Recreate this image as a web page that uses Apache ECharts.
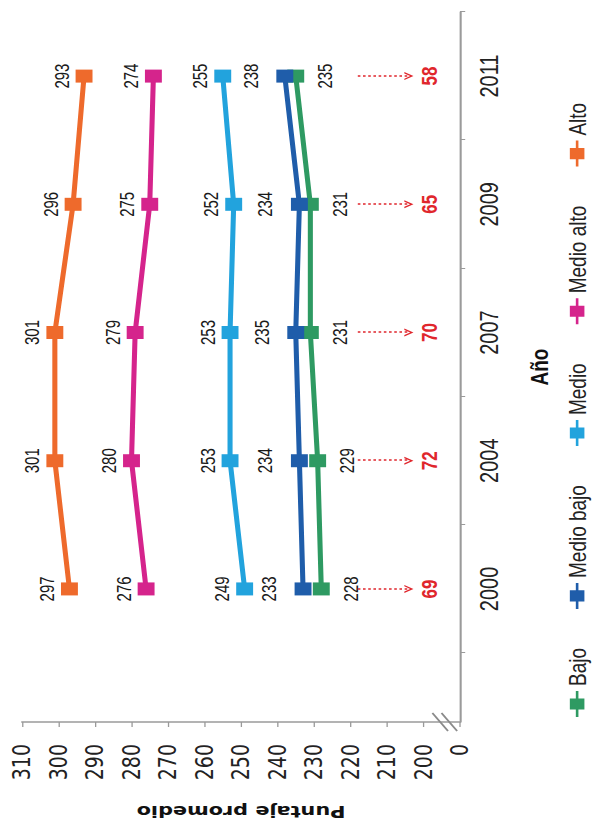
<!DOCTYPE html>
<html><head><meta charset="utf-8">
<script src="https://cdn.jsdelivr.net/npm/echarts@6/dist/echarts.min.js"></script>
<style>
html,body{margin:0;padding:0;background:#fff;overflow:hidden;width:596px;height:835px}
#chart{position:absolute;left:0;top:0;width:835px;height:458px;transform-origin:0 0;transform:translateY(835px) rotate(-90deg) scaleY(1.3013);}
</style></head><body><div id="chart"></div>
<script>
// ---- data ----
const anios = ['2000', '2004', '2007', '2009', '2011'];
const bajo = [228, 229, 231, 231, 235];
const medioBajo = [233, 234, 235, 234, 238];
const medio = [249, 253, 253, 252, 255];
const medioAlto = [276, 280, 279, 275, 274];
const alto = [297, 301, 301, 296, 293];
const brechas = [69, 72, 70, 65, 58];   // Alto - Bajo, red annotations
const valorMin = 190, valorMax = 310, valorPaso = 10;   // 190 is shown as "0" (axis break)
const etiquetaCero = '0';

// ---- layout ----
const K = 596 / 458;
const W = 835, H = 458;
const gridLeft = 113, gridRight = 12, gridTop = 22 / K, gridBottom = H - 460 / K;
const catWidth = (835 - 11.7 - 182) / anios.length;
const xMin = -0.5 - (182 - 113) / catWidth;

const chart = echarts.init(document.getElementById('chart'), null, {renderer: 'svg', width: W, height: H});

const chevron = 'path://M0,10 L5,0 L10,10 L8.2,10 L5,3.6 L1.8,10 Z';
const labelFont = 'Liberation Sans';

function mkSeries(name, vals, color, pos, dist) {
  return {
    name: name, type: 'line',
    data: vals.map((v, i) => [i, v]),
    symbol: 'rect', symbolSize: 13,
    lineStyle: {width: 3.9, color: color},
    itemStyle: {color: color},
    label: {show: true, position: pos, distance: dist, color: '#1a1a1a', fontFamily: labelFont, fontSize: 15,
      formatter: p => String(p.value[1])},
    emphasis: {disabled: true},
    animation: false, z: 3
  };
}

const series = [
  mkSeries('Bajo', bajo, '#2E9A62', 'bottom', 9),
  mkSeries('Medio bajo', medioBajo, '#1F5DAA', 'top', 12),
  mkSeries('Medio', medio, '#22A3DD', 'top', 3),
  mkSeries('Medio alto', medioAlto, '#D5248C', 'top', 3),
  mkSeries('Alto', alto, '#EE6A2C', 'top', 3)
];
series[0].markLine = {
  silent: true, animation: false,
  symbol: ['none', chevron], symbolSize: [8, 7],
  lineStyle: {color: '#E0262C', width: 1.5, type: [2, 2]},
  label: {show: true, position: 'end', distance: 7, color: '#E0262C', fontWeight: 'bold',
    fontFamily: labelFont, fontSize: 17, formatter: p => String(brechas[p.dataIndex])},
  emphasis: {disabled: true},
  data: anios.map((a, i) => [{coord: [i, 218]}, {coord: [i, 204]}])
};

chart.setOption({
  backgroundColor: '#fff',
  animation: false,
  grid: {left: gridLeft, right: gridRight, top: gridTop, bottom: gridBottom, containLabel: false},
  legend: {
    data: ['Bajo', 'Medio bajo', 'Medio', 'Medio alto', 'Alto'],
    left: 112, top: 429, itemWidth: 26, itemHeight: 14, itemGap: 38,
    textStyle: {fontFamily: labelFont, fontSize: 19, color: '#222', lineHeight: 19}
  },
  xAxis: {
    type: 'value', min: xMin, max: 4.5,
    name: 'Año', nameLocation: 'middle', nameGap: 52,
    nameTextStyle: {fontFamily: labelFont, fontWeight: 'bold', fontSize: 19, color: '#111'},
    axisLine: {onZero: false, lineStyle: {color: '#9a9a9a', width: 1.6}},
    axisTick: {show: true, length: 4, customValues: [-0.5, 0.5, 1.5, 2.5, 3.5, 4.5], lineStyle: {color: '#9a9a9a'}},
    axisLabel: {customValues: [0, 1, 2, 3, 4], margin: 12, fontFamily: labelFont, fontSize: 20, color: '#222',
      formatter: v => anios[Math.round(v)]},
    splitLine: {show: false}
  },
  yAxis: {
    type: 'value', min: valorMin, max: valorMax, interval: valorPaso,
    name: 'Puntaje promedio', nameLocation: 'middle', nameGap: 82,
    nameTextStyle: {fontFamily: 'DejaVu Sans', fontWeight: 'bold', fontSize: 16, color: '#111'},
    axisLine: {show: true, onZero: false, lineStyle: {color: '#9a9a9a', width: 1.6}},
    axisTick: {show: true, length: 5, lineStyle: {color: '#9a9a9a'}},
    axisLabel: {margin: 22, fontFamily: 'DejaVu Sans', fontSize: 19, color: '#222',
      formatter: v => (v === valorMin ? etiquetaCero : String(v))},
    splitLine: {show: false}
  },
  series: series
});

// axis break mark "//" on the value axis between 0 and 200
const yb = chart.convertToPixel({yAxisIndex: 0}, 194);
const xa = chart.convertToPixel({xAxisIndex: 0}, xMin);
const brk = [];
[-4, 3].forEach(d => {
  brk.push({type: 'line', shape: {x1: xa + 9, y1: yb + d - 6, x2: xa - 9, y2: yb + d + 6},
    style: {stroke: '#8a8a8a', lineWidth: 1.4}, z: 10});
});
chart.setOption({graphic: brk});
</script></body></html>
